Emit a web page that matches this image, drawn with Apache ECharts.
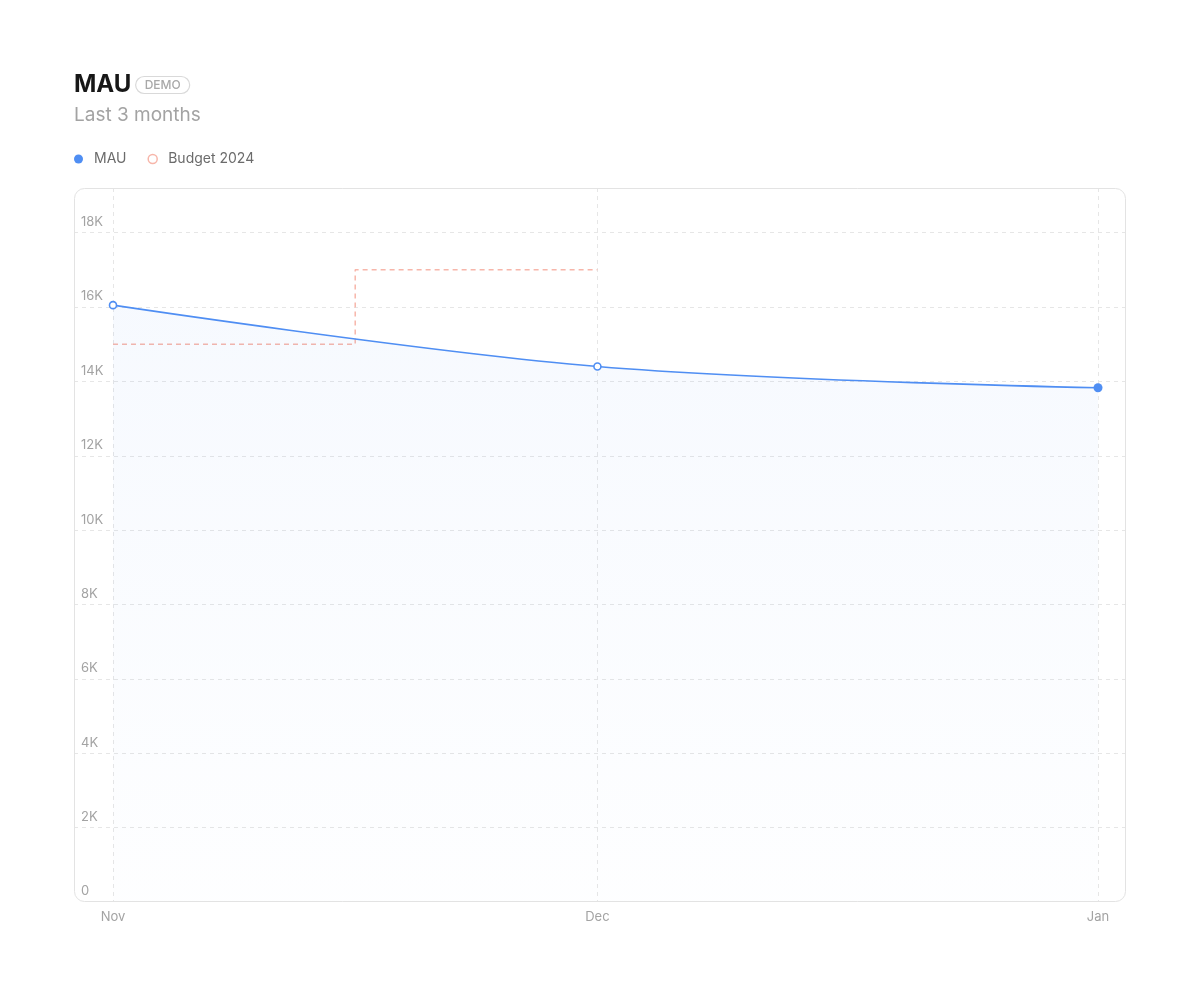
<!DOCTYPE html>
<html>
<head>
<meta charset="utf-8">
<style>
  html, body { margin: 0; padding: 0; background: #fff; }
  #chart { width: 1200px; height: 995px; }
</style>
<script src="https://cdn.jsdelivr.net/npm/echarts@6/dist/echarts.min.js"></script>
</head>
<body>
<div id="chart"></div>
<script>
// --- Data ---
const mauDates = ['2024-11-01', '2024-12-01', '2025-01-01'];
const mauValues = [16050, 14400, 13830];

const budgetDates = ['2024-11-01', '2024-11-16', '2024-12-01'];
const budgetValues = [15000, 17000, 17000];

const xTickDates = ['2024-11-01', '2024-12-01', '2025-01-01'];
const xTickLabels = ['Nov', 'Dec', 'Jan'];

const DAY = 24 * 3600 * 1000;
const ts = d => new Date(d + 'T00:00:00Z').getTime();

const blue = '#4f8ef3';
const salmon = '#f7b6aa';
const gridColor = '#e6e6e6';
const muted = '#a3a3a3';
const font = 'Inter, "Noto Sans", sans-serif';

const mauSeries = mauDates.map((d, i) => {
  const last = i === mauDates.length - 1;
  return {
    value: [ts(d), mauValues[i]],
    symbolSize: last ? 9 : 7,
    itemStyle: last
      ? { color: blue, borderColor: blue, borderWidth: 0 }
      : { color: '#fff', borderColor: blue, borderWidth: 1.6 }
  };
});
const budgetSeries = budgetDates.map((d, i) => [ts(d), budgetValues[i]]);
const tickValues = xTickDates.map(ts);

const chart = echarts.init(document.getElementById('chart'), null, { renderer: 'canvas' });

chart.setOption({
  backgroundColor: '#fff',
  animation: false,
  textStyle: { fontFamily: font },
  title: [
    {
      left: 69, top: 66,
      text: '{t|MAU} {d|DEMO}',
      textStyle: {
        rich: {
          t: { fontSize: 24, fontWeight: 700, color: '#171717', fontFamily: font, lineHeight: 28 },
          d: {
            fontSize: 12, fontWeight: 500, color: '#a8a8a8', fontFamily: font,
            borderColor: '#d9d9d9', borderWidth: 1.2, borderRadius: 10,
            padding: [3, 9, 2, 9], lineHeight: 14
          }
        }
      }
    },
    {
      left: 69, top: 101,
      text: 'Last 3 months',
      textStyle: { fontSize: 19, fontWeight: 400, color: muted, fontFamily: font }
    }
  ],
  legend: {
    left: 69, top: 147,
    itemWidth: 9, itemHeight: 9, itemGap: 21,
    textStyle: { fontSize: 14, color: '#6b6b6b', fontFamily: font, padding: [0, 0, 0, 6] },
    data: [
      { name: 'MAU', icon: 'circle', itemStyle: { color: blue, borderWidth: 0 } },
      { name: 'Budget 2024', icon: 'circle', itemStyle: { color: '#fff', borderColor: salmon, borderWidth: 1.5 } }
    ]
  },
  graphic: [{
    type: 'rect', z: 100, silent: true,
    shape: { x: 74.5, y: 188.5, width: 1051, height: 713, r: 10 },
    style: { fill: 'none', stroke: '#e3e3e3', lineWidth: 1 }
  }],
  grid: { left: 74, right: 74, top: 188, bottom: 93, containLabel: false },
  xAxis: {
    type: 'value',
    min: tickValues[0] - 2.415 * DAY,
    max: tickValues[tickValues.length - 1] + 1.734 * DAY,
    axisLine: { show: false },
    axisTick: { show: false, customValues: tickValues },
    axisLabel: {
      customValues: tickValues,
      color: muted, fontSize: 13, fontFamily: font, margin: 9,
      formatter: v => xTickLabels[tickValues.indexOf(v)] || ''
    },
    splitLine: { show: true, lineStyle: { color: gridColor, type: [4, 4], width: 1 } }
  },
  yAxis: {
    type: 'value',
    min: 0, max: 19200, interval: 2000,
    axisLine: { show: false },
    axisTick: { show: false },
    axisLabel: {
      inside: true, margin: 7, color: muted, fontSize: 13, fontFamily: font,
      verticalAlign: 'bottom', padding: [0, 0, 4, 0],
      showMaxLabel: false,
      formatter: v => (v % 2000 !== 0 ? '' : v === 0 ? '0' : v / 1000 + 'K')
    },
    splitLine: {
      show: true, showMinLine: false, showMaxLine: false,
      lineStyle: { color: gridColor, type: [4, 4], width: 1 }
    }
  },
  series: [
    {
      name: 'MAU', type: 'line', smooth: 0.35,
      data: mauSeries,
      symbol: 'circle', showSymbol: true,
      lineStyle: { color: blue, width: 1.6 },
      itemStyle: { color: blue },
      areaStyle: {
        color: new echarts.graphic.LinearGradient(0, 0, 0, 1, [
          { offset: 0, color: 'rgba(79,142,243,0.07)' },
          { offset: 1, color: 'rgba(79,142,243,0.01)' }
        ])
      },
      z: 3
    },
    {
      name: 'Budget 2024', type: 'line', step: 'end',
      data: budgetSeries,
      showSymbol: false, symbol: 'none',
      lineStyle: { color: salmon, width: 1.5, type: [5, 4] },
      itemStyle: { color: salmon },
      z: 2
    }
  ]
});
</script>
</body>
</html>
